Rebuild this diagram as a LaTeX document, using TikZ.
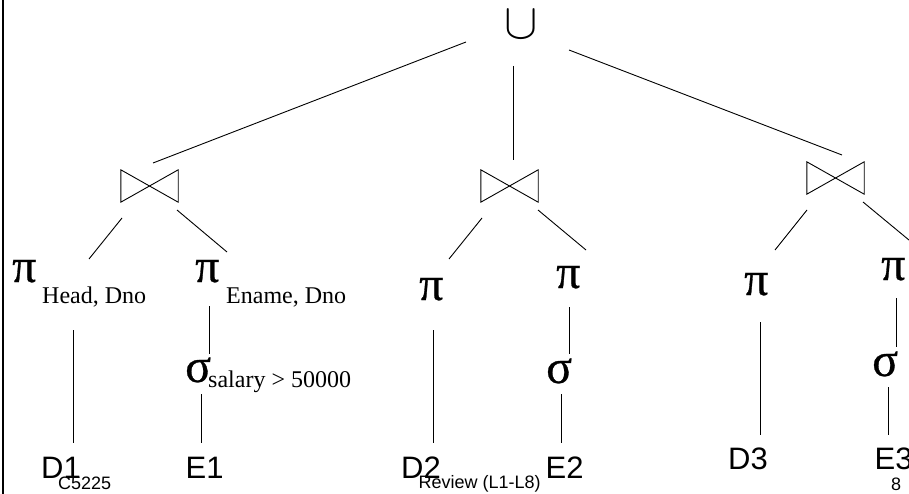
\documentclass[tikz,border=0pt]{standalone}
\usepackage{fontspec}
\setmainfont{Liberation Sans}
\newfontfamily\timesfont{Liberation Serif}
\newfontfamily\greekfont[FakeBold=0.6]{Liberation Serif}
\usetikzlibrary{calc}

% operator symbol followed by a lowered subscript text
\newcommand\withsub[4]{\makebox[#1][l]{#3}\raisebox{#2}{\timesfont\fontsize{24}{24}\selectfont #4}}

\tikzset{
  wire/.style={line width=0.9pt},
  leaf/.style={inner sep=0pt, anchor=base west, font=\fontsize{31}{31}\selectfont},
  op/.style={inner sep=0pt, anchor=base west, font=\greekfont\fontsize{48}{48}\selectfont},
  foot/.style={inner sep=0pt, anchor=base west, font=\fontsize{18}{18}\selectfont},
  joinbox/.style={minimum width=57pt, minimum height=32pt, inner sep=0pt},
}

\begin{document}
\begin{tikzpicture}[x=1pt,y=-1pt]
\useasboundingbox (0,0) rectangle (909,494);
\fill[white] (0,0) rectangle (909,494);

% slide border on the left
\draw[line width=2.5pt] (3,0) -- (3,494);

% root: union
\node[inner sep=0pt, scale=5] (u) at (521.5,25) {$\cup$};

% joins
\node[joinbox] (j1) at (149.5,186) {};
\node[joinbox] (j2) at (509.5,186) {};
\node[joinbox] (j3) at (835.5,178) {};
\foreach \j in {j1,j2,j3}
  \draw[wire, line join=miter] (\j.north west) -- (\j.south east) -- (\j.north east) -- (\j.south west) -- cycle;

% first branch
\node[op] (p1) at (12,282) {\withsub{30pt}{-21pt}{π}{Head, Dno}};
\node[op] (p2) at (195,282) {\withsub{31pt}{-21pt}{π}{Ename, Dno}};
\node[op] (s1) at (185,382) {\withsub{23pt}{-5pt}{σ}{salary > 50000}};
\node[leaf] (d1) at (41,478) {D1};
\node[leaf] (e1) at (185.5,478) {E1};

% second branch
\node[op] (p3) at (419,300) {π};
\node[op] (p4) at (556,288) {π};
\node[op] (s2) at (546,383) {σ};
\node[leaf] (d2) at (401,478) {D2};
\node[leaf] (e2) at (545.5,478) {E2};

% third branch
\node[op] (p5) at (744,295) {π};
\node[op] (p6) at (881,280) {π};
\node[op] (s3) at (872,376) {σ};
\node[leaf] (d3) at (728,469) {D3};
\node[leaf] (e3) at (874.5,469) {E3};

% edges
\draw[wire] ($(u)+(-55.5,17)$) -- ($(j1)+(3.5,-23)$);
\draw[wire] ($(u)+(-8.5,41)$) -- ($(j2)+(3.5,-26)$);
\draw[wire] ($(u)+(47.5,25)$) -- ($(j3)+(6.5,-23)$);

\draw[wire] ($(j1)+(-27.5,32)$) -- ($(p1.base west)+(77,-23)$);
\draw[wire] ($(j1)+(27.5,24)$) -- ($(p2.base west)+(32,-30)$);
\draw[wire] ($(j2)+(-27.5,32)$) -- ($(p3.base west)+(30,-41)$);
\draw[wire] ($(j2)+(28.5,24)$) -- ($(p4.base west)+(30,-38)$);
\draw[wire] ($(j3)+(-28.5,32)$) -- ($(p5.base west)+(31,-45)$);
\draw[wire] ($(j3)+(27.5,24)$) -- ($(p6.base west)+(34,-35)$);

\draw[wire] ($(p1.base west)+(61,48)$) -- ($(d1.base west)+(32,-35)$);
\draw[wire] ($(p2.base west)+(14,24)$) -- ($(s1.base west)+(24,-28)$);
\draw[wire] ($(s1.base west)+(16,12)$) -- ($(e1.base west)+(15.5,-35)$);
\draw[wire] ($(p3.base west)+(14,30)$) -- ($(d2.base west)+(32,-35)$);
\draw[wire] ($(p4.base west)+(13,19)$) -- ($(s2.base west)+(23,-29)$);
\draw[wire] ($(s2.base west)+(15,11)$) -- ($(e2.base west)+(15.5,-35)$);
\draw[wire] ($(p5.base west)+(16,27)$) -- ($(d3.base west)+(32,-34)$);
\draw[wire] ($(p6.base west)+(15,18)$) -- ($(s3.base west)+(24,-29)$);
\draw[wire] ($(s3.base west)+(16,11)$) -- ($(e3.base west)+(13.5,-34)$);

% footer
\node[foot] (course) at (58,489) {C5225};
\node[foot] (title) at (418.5,488) {Review (L1-L8)};
\node[foot] (page) at (891,490) {8};
\end{tikzpicture}
\end{document}
